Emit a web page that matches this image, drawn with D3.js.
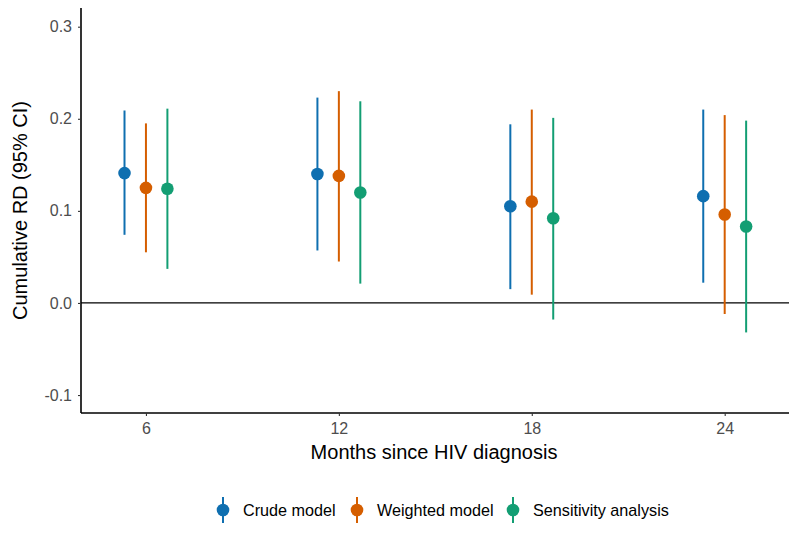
<!DOCTYPE html>
<html><head><meta charset="utf-8">
<script src="https://cdn.jsdelivr.net/npm/d3@7"></script>
<style>body{margin:0;background:#fff;} svg{display:block;font-family:"Liberation Sans",Arial,sans-serif;}</style>
</head><body><svg id="c" width="800" height="533"></svg>
<script>
const months = [6, 12, 18, 24];
const seriesNames = ["Crude model", "Weighted model", "Sensitivity analysis"];
const seriesColors = ["#0F6FB0", "#D55E00", "#139E73"];
const crudeEst = [0.141, 0.140, 0.105, 0.116];
const crudeLo  = [0.074, 0.057, 0.015, 0.022];
const crudeHi  = [0.209, 0.223, 0.194, 0.210];
const weightedEst = [0.125, 0.138, 0.110, 0.096];
const weightedLo  = [0.055, 0.045, 0.009, -0.012];
const weightedHi  = [0.195, 0.230, 0.210, 0.204];
const sensEst = [0.124, 0.120, 0.092, 0.083];
const sensLo  = [0.037, 0.021, -0.018, -0.032];
const sensHi  = [0.211, 0.219, 0.201, 0.198];
const yTicks = [-0.1, 0.0, 0.1, 0.2, 0.3];

const series = [
  {name: seriesNames[0], color: seriesColors[0], est: crudeEst, lo: crudeLo, hi: crudeHi},
  {name: seriesNames[1], color: seriesColors[1], est: weightedEst, lo: weightedLo, hi: weightedHi},
  {name: seriesNames[2], color: seriesColors[2], est: sensEst, lo: sensLo, hi: sensHi}
];
const dodge = 0.667;

const svg = d3.select("#c");
const L = 81, R = 789, T = 8, B = 413;
const x = d3.scaleLinear().domain([3.98, 26.0]).range([L, R]);
const y = d3.scaleLinear().domain([-0.1195, 0.3203]).range([B, T]);

const fmt = d => d3.format(".1f")(d).replace("\u2212", "-");
const yAx = svg.append("g").attr("transform", `translate(${L},0)`)
  .call(d3.axisLeft(y).tickValues(yTicks).tickFormat(fmt).tickSize(3).tickPadding(6));
const xAx = svg.append("g").attr("transform", `translate(0,${B})`)
  .call(d3.axisBottom(x).tickValues(months).tickFormat(d => d).tickSize(3).tickPadding(7));
[yAx, xAx].forEach(g => {
  g.select(".domain").attr("stroke", "#000").attr("stroke-width", 1.6);
  g.selectAll(".tick line").attr("stroke", "#333").attr("stroke-width", 1.1);
  g.selectAll(".tick text").attr("fill", "#4D4D4D").style("font-size", "16px").style("font-family", "'Liberation Sans',Arial,sans-serif");
});
yAx.select(".domain").attr("d", `M0,${T}V${B}`);
xAx.select(".domain").attr("d", `M${L},0H${R}`);

svg.append("line").attr("x1", L).attr("x2", R).attr("y1", y(0)).attr("y2", y(0))
  .attr("stroke", "#000").attr("stroke-width", 1.3);

series.forEach((s, si) => {
  const g = svg.append("g");
  months.forEach((m, i) => {
    const cx = x(m + (si - 1) * dodge);
    g.append("line").attr("x1", cx).attr("x2", cx).attr("y1", y(s.lo[i])).attr("y2", y(s.hi[i]))
      .attr("stroke", s.color).attr("stroke-width", 2);
    g.append("circle").attr("cx", cx).attr("cy", y(s.est[i])).attr("r", 6.3).attr("fill", s.color);
  });
});

svg.append("text").attr("x", (L + R) / 2 - 1).attr("y", 459).attr("text-anchor", "middle")
  .style("font-size", "20px").attr("fill", "#000").text("Months since HIV diagnosis");
svg.append("text").attr("transform", `translate(27,${(T + B) / 2}) rotate(-90)`).attr("text-anchor", "middle")
  .style("font-size", "20px").attr("fill", "#000").text("Cumulative RD (95% CI)");

const legX = [223, 357, 513];
series.forEach((s, si) => {
  const g = svg.append("g").attr("transform", `translate(${legX[si]},510)`);
  g.append("line").attr("y1", -13).attr("y2", 13).attr("stroke", s.color).attr("stroke-width", 2);
  g.append("circle").attr("r", 6.3).attr("fill", s.color);
  g.append("text").attr("x", 20).attr("y", 5.5).style("font-size", "16.2px").attr("fill", "#000").text(s.name);
});
</script></body></html>
